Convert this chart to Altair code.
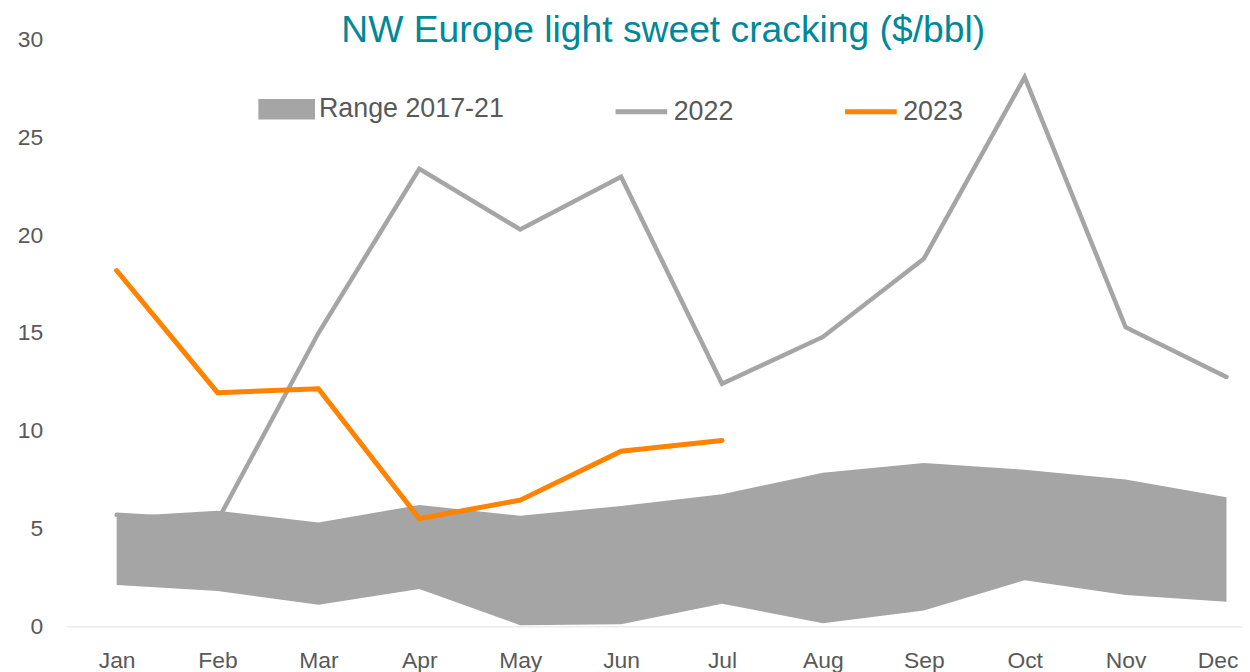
import altair as alt
import pandas as pd

months = ["Jan", "Feb", "Mar", "Apr", "May", "Jun", "Jul", "Aug", "Sep", "Oct", "Nov", "Dec"]
range_low = [2.1, 1.8, 1.1, 1.9, 0.05, 0.1, 1.15, 0.15, 0.8, 2.35, 1.6, 1.25]
range_high = [5.6, 5.9, 5.3, 6.2, 5.65, 6.15, 6.75, 7.85, 8.35, 8.0, 7.5, 6.6]
y2022 = [5.7, 5.4, 15.0, 23.4, 20.3, 23.0, 12.4, 14.8, 18.8, 28.1, 15.3, 12.75]
months2023 = ["Jan", "Feb", "Mar", "Apr", "May", "Jun", "Jul"]
y2023 = [18.2, 11.95, 12.15, 5.5, 6.45, 8.95, 9.5]

series_names = ["Range 2017-21", "2022", "2023"]
series_colors = ["#a5a5a5", "#a5a5a5", "#ff8200"]

FONT = "Liberation Sans"
TXT = "#595959"

df_range = pd.DataFrame({"month": months, "low": range_low, "high": range_high,
                         "series": series_names[0]})
df_lines = pd.concat([
    pd.DataFrame({"month": months, "value": y2022, "series": "2022"}),
    pd.DataFrame({"month": months2023, "value": y2023, "series": "2023"}),
])

xscale = alt.Scale(type="point", domain=months, padding=0.325, align=0.763)
yscale = alt.Scale(domain=[0, 30], nice=False, zero=True)
cscale = alt.Scale(domain=series_names, range=series_colors)

IS_RANGE = "datum.value === 'Range 2017-21'"
legend = alt.Legend(
    title=None, orient="none", legendX=193, legendY=41, direction="horizontal",
    columnPadding=101, symbolSize=52 * 52,
    symbolType=alt.ExprRef(IS_RANGE + " ? 'M-1,-0.3H1V0.3H-1Z' : 'stroke'"),
    symbolFillColor=alt.ExprRef(IS_RANGE + " ? '#a5a5a5' : 'transparent'"),
    symbolStrokeColor=alt.ExprRef(IS_RANGE + " ? 'transparent' : scale('color', datum.value)"),
    symbolStrokeWidth=5, symbolOpacity=1,
    labelFontSize=27, labelFont=FONT, labelColor=TXT, labelOffset=4, labelLimit=400,
)

xaxis = alt.Axis(title=None, ticks=False, grid=False, domain=True, domainColor="#ebebeb",
                 domainWidth=1.5, labelFontSize=23, labelFont=FONT, labelColor=TXT,
                 labelPadding=24, labelAngle=0,
                 labelOffset={"condition": {"test": "datum.value === 'Dec'", "value": -9}, "value": 0})
yaxis = alt.Axis(title=None, ticks=False, grid=False, domain=False, values=[0, 5, 10, 15, 20, 25, 30],
                 labelFontSize=23, labelFont=FONT, labelColor=TXT, labelPadding=24)

area = alt.Chart(df_range).mark_area(opacity=1).encode(
    x=alt.X("month:N", scale=xscale, axis=xaxis, sort=months),
    y=alt.Y("low:Q", scale=yscale, axis=yaxis),
    y2="high:Q",
    color=alt.Color("series:N", scale=cscale, legend=legend),
)

line22 = alt.Chart(df_lines[df_lines.series == "2022"]).mark_line(
    strokeWidth=4.5, strokeCap="round", strokeJoin="miter").encode(
    x=alt.X("month:N", scale=xscale, sort=months),
    y=alt.Y("value:Q", scale=yscale),
    color=alt.Color("series:N", scale=cscale, legend=legend),
)
line23 = alt.Chart(df_lines[df_lines.series == "2023"]).mark_line(
    strokeWidth=5, strokeCap="round", strokeJoin="miter").encode(
    x=alt.X("month:N", scale=xscale, sort=months),
    y=alt.Y("value:Q", scale=yscale),
    color=alt.Color("series:N", scale=cscale, legend=legend),
)

chart = alt.layer(area, line22, line23).properties(
    width=1183, height=590,
    title=alt.TitleParams("NW Europe light sweet cracking ($/bbl)", fontSize=37.5, font=FONT,
                          fontWeight="normal", color="#00879a", anchor="middle",
                          baseline="alphabetic", offset=-51, dx=9),
    autosize=alt.AutoSizeParams(type="none"),
    padding={"left": 59, "top": 30, "right": 0, "bottom": 44},
).configure(background="white", view=alt.ViewConfig(stroke=None))

chart.save("out.html", embed_options={"renderer": "svg", "actions": False})
